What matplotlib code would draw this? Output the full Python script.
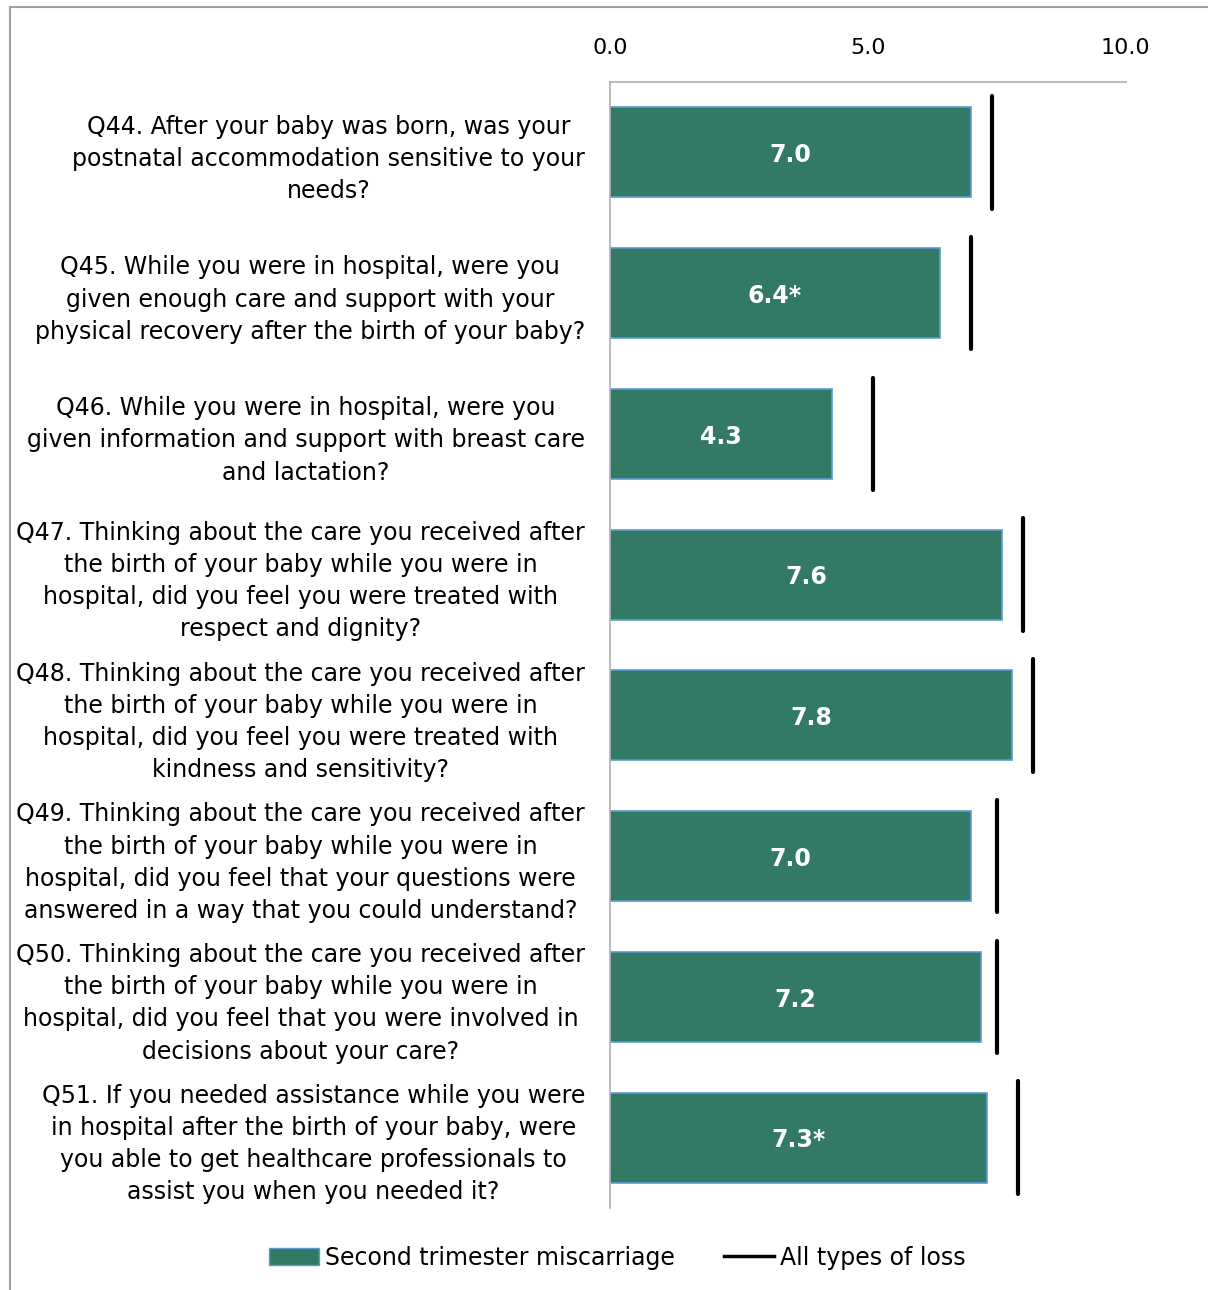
import matplotlib.pyplot as plt
from matplotlib.lines import Line2D

# Scores out of 10 per question
questions = [
    "Q44. After your baby was born, was your\npostnatal accommodation sensitive to your\nneeds?",
    "Q45. While you were in hospital, were you\ngiven enough care and support with your\nphysical recovery after the birth of your baby?",
    "Q46. While you were in hospital, were you\ngiven information and support with breast care\nand lactation?",
    "Q47. Thinking about the care you received after\nthe birth of your baby while you were in\nhospital, did you feel you were treated with\nrespect and dignity?",
    "Q48. Thinking about the care you received after\nthe birth of your baby while you were in\nhospital, did you feel you were treated with\nkindness and sensitivity?",
    "Q49. Thinking about the care you received after\nthe birth of your baby while you were in\nhospital, did you feel that your questions were\nanswered in a way that you could understand?",
    "Q50. Thinking about the care you received after\nthe birth of your baby while you were in\nhospital, did you feel that you were involved in\ndecisions about your care?",
    "Q51. If you needed assistance while you were\nin hospital after the birth of your baby, were\nyou able to get healthcare professionals to\nassist you when you needed it?",
]
second_trimester = [7.0, 6.4, 4.3, 7.6, 7.8, 7.0, 7.2, 7.3]
significant = [False, True, False, False, False, False, False, True]
all_loss = [7.4, 7.0, 5.1, 8.0, 8.2, 7.5, 7.5, 7.9]

plt.rcParams['font.family'] = 'DejaVu Sans'

fig = plt.figure(figsize=(12.08, 12.9), dpi=100)
ax = fig.add_axes([0.505, 0.0636, 0.427, 0.8729])

y = list(range(len(questions)))
bars = ax.barh(y, second_trimester, height=0.64, color='#327a66',
               edgecolor='#5b9bd5', linewidth=1.2)
ax.vlines(all_loss, [v - 0.4 for v in y], [v + 0.4 for v in y],
          color='black', linewidth=3, capstyle='round')

for i, (v, star) in enumerate(zip(second_trimester, significant)):
    txt = f"{v:.1f}" + ("*" if star else "")
    ax.text(v / 2, i + 0.02, txt, ha='center', va='center', color='white',
            fontsize=17, fontweight='bold')

ax.set_xlim(0, 10)
ax.set_ylim(len(questions) - 0.5, -0.5)
ax.set_xticks([0, 5, 10])
ax.set_xticklabels(["0.0", "5.0", "10.0"])
ax.xaxis.tick_top()
ax.tick_params(axis='x', length=0, pad=17, labelsize=16)
ax.set_yticks(y)
ax.set_yticklabels(questions, fontsize=17, multialignment='center',
                   linespacing=1.43)
ax.tick_params(axis='y', length=0, pad=18)

for side in ['right', 'bottom']:
    ax.spines[side].set_visible(False)
for side in ['top', 'left']:
    ax.spines[side].set_color('#b0b0b0')
    ax.spines[side].set_linewidth(1.2)

handles = [
    plt.Rectangle((0, 0), 1, 1, facecolor='#327a66', edgecolor='#5b9bd5'),
    Line2D([0], [0], color='black', linewidth=2.5),
]
fig.legend(handles, ["Second trimester miscarriage", "All types of loss"],
           loc='center', bbox_to_anchor=(0.511, 0.025), ncol=2,
           frameon=False, fontsize=17, handlelength=2.1, handletextpad=0.25,
           columnspacing=2.1)

# outer chart border
fig.add_artist(Line2D([10 / 1208, 1], [1 - 7 / 1290, 1 - 7 / 1290],
                      color='#a0a0a0', linewidth=1.5))
fig.add_artist(Line2D([10 / 1208, 10 / 1208], [0, 1 - 7 / 1290],
                      color='#a0a0a0', linewidth=1.5))

fig.savefig("out.png", dpi=100)
